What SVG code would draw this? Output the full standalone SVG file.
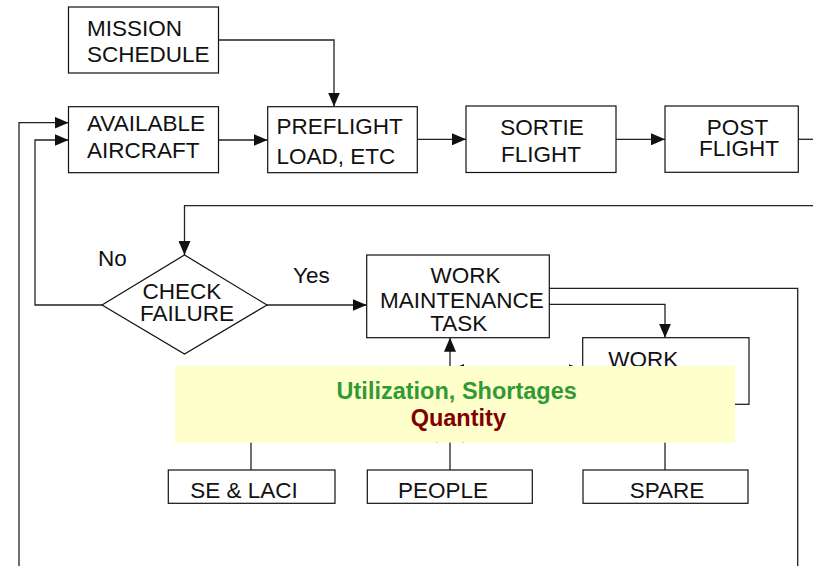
<svg xmlns="http://www.w3.org/2000/svg" width="813" height="566" viewBox="0 0 813 566">
  <defs>
    <marker id="arrow" markerUnits="userSpaceOnUse" markerWidth="14" markerHeight="12" refX="14" refY="6" orient="auto-start-reverse">
      <path d="M0,0 L14,6 L0,12 Z" fill="#111"/>
    </marker>
    <style>
      .box { fill: #fff; stroke: #111; stroke-width: 1.2; }
      .lbl { font-family: "Liberation Sans", Arial, sans-serif; font-size: 22.5px; fill: #111; }
      .mid { text-anchor: middle; }
      .wire { fill: none; stroke: #222; stroke-width: 1.3; }
      .arr { marker-end: url(#arrow); }
      .note { font-family: "Liberation Sans", Arial, sans-serif; font-size: 23.5px; font-weight: bold; text-anchor: middle; }
    </style>
  </defs>
  <rect width="813" height="566" fill="#fff"/>

  <!-- connectors -->
  <g id="connectors">
    <path class="wire arr" d="M218.5,40 H334 V106.5"/>
    <path class="wire arr" d="M218.5,140 H267.5"/>
    <path class="wire arr" d="M417.5,139.3 H466"/>
    <path class="wire arr" d="M616,139.3 H665"/>
    <path class="wire" d="M798,139.3 H813"/>
    <path class="wire arr" d="M813,205.7 H184.5 V255"/>
    <path class="wire arr" d="M102,305 H35 V140 H68.5"/>
    <path class="wire arr" d="M19,566 V122.7 H68.5"/>
    <path class="wire arr" d="M267,305 H366.7"/>
    <path class="wire" d="M549.5,288.3 H797.7 V566"/>
    <path class="wire arr" d="M549.5,304.3 H665 V337.7"/>
    <path class="wire arr" d="M450,470 V337.7"/>
    <path class="wire arr" d="M450,370 H582.7" marker-start="url(#arrow)"/>
    <path class="wire" d="M251,470 V430"/>
    <path class="wire" d="M665,470 V404.3"/>
    <path class="wire arr" d="M251,437 H450"/>
    <path class="wire arr" d="M665,437 H450"/>
  </g>

  <g id="mission-schedule">
    <rect class="box" x="68.5" y="7" width="150" height="66"/>
    <text class="lbl" x="87" y="35.7">MISSION</text>
    <text class="lbl" x="87" y="62.3">SCHEDULE</text>
  </g>

  <g id="available-aircraft">
    <rect class="box" x="68.5" y="106.7" width="150" height="66"/>
    <text class="lbl" x="87" y="131">AVAILABLE</text>
    <text class="lbl" x="87" y="158">AIRCRAFT</text>
  </g>

  <g id="preflight">
    <rect class="box" x="267.7" y="106.7" width="149.6" height="66"/>
    <text class="lbl" x="276.5" y="133.5">PREFLIGHT</text>
    <text class="lbl" x="276.5" y="164.3">LOAD, ETC</text>
  </g>

  <g id="sortie-flight">
    <rect class="box" x="466" y="106" width="150" height="66.5"/>
    <text class="lbl mid" x="542" y="135">SORTIE</text>
    <text class="lbl mid" x="541" y="161.7">FLIGHT</text>
  </g>

  <g id="post-flight">
    <rect class="box" x="665" y="106" width="133.3" height="66.3"/>
    <text class="lbl mid" x="737.5" y="135">POST</text>
    <text class="lbl mid" x="739" y="156">FLIGHT</text>
  </g>

  <g id="check-failure">
    <path class="box" d="M102,305 L184.5,255 L267,305 L184.5,354 Z"/>
    <text class="lbl mid" x="182" y="299">CHECK</text>
    <text class="lbl mid" x="187" y="320.7">FAILURE</text>
  </g>
  <text class="lbl" x="98" y="266">No</text>
  <text class="lbl" x="293" y="283.3">Yes</text>

  <g id="work-maintenance-task">
    <rect class="box" x="366.7" y="255" width="182.6" height="82.7"/>
    <text class="lbl mid" x="465.5" y="283.3">WORK</text>
    <text class="lbl mid" x="462" y="307.7">MAINTENANCE</text>
    <text class="lbl mid" x="458.7" y="330.7">TASK</text>
  </g>

  <g id="work">
    <rect class="box" x="582.7" y="337.7" width="166.3" height="66.6"/>
    <text class="lbl mid" x="643.3" y="366.5">WORK</text>
  </g>

  <g id="se-laci">
    <rect class="box" x="168.3" y="470" width="166.7" height="33.3"/>
    <text class="lbl mid" x="244" y="498.3">SE &amp; LACI</text>
  </g>

  <g id="people">
    <rect class="box" x="367.3" y="470" width="165" height="33.3"/>
    <text class="lbl mid" x="443" y="498.3">PEOPLE</text>
  </g>

  <g id="spare">
    <rect class="box" x="583" y="470" width="165" height="33.3"/>
    <text class="lbl mid" x="667" y="498.3">SPARE</text>
  </g>

  <!-- highlighted annotation panel -->
  <g id="annotation">
    <rect x="175" y="366" width="560" height="76.7" fill="#FFFFCC"/>
    <text class="note" x="456.7" y="399" fill="#339933">Utilization, Shortages</text>
    <text class="note" x="458.3" y="425.5" fill="#800000">Quantity</text>
  </g>
</svg>
